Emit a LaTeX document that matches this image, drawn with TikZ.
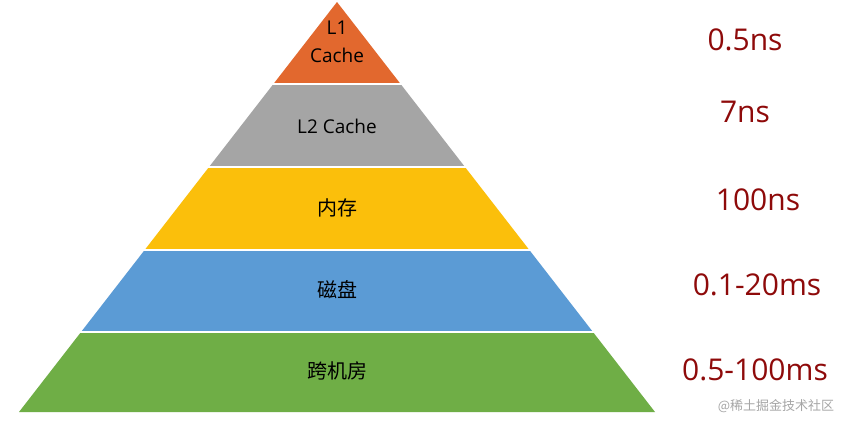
\documentclass[tikz,border=0pt]{standalone}
\usepackage{fontspec}
\setmainfont{Open Sans}
\newfontfamily\cjk{Noto Sans CJK SC}
\definecolor{lvA}{HTML}{E2682E}
\definecolor{lvB}{HTML}{A5A5A5}
\definecolor{lvC}{HTML}{FBBF0B}
\definecolor{lvD}{HTML}{5B9BD5}
\definecolor{lvE}{HTML}{6FAE46}
\definecolor{lat}{HTML}{8E0A0A}
\begin{document}
\begin{tikzpicture}[x=1pt,y=-1pt,
  layer/.style={draw=white,line width=2.5pt,line join=miter},
  lbl/.style={font=\fontsize{19}{22}\selectfont,text=black,align=center},
  cjklbl/.style={font=\cjk\fontsize{20}{22}\selectfont,text=black},
  tm/.style={font=\fontsize{30}{32}\selectfont,text=lat}]
\useasboundingbox[fill=white] (0,0) rectangle (862,423);
\def\hw#1{(#1-2)*0.7756}
\foreach \t/\b/\c in {2/84/lvA,84/167/lvB,167/250/lvC,250/332/lvD,332/412/lvE}{
  \fill[\c] ({337-(\t-2)*0.7756},\t) -- ({337+(\t-2)*0.7756},\t) -- ({337+(\b-2)*0.7756},\b) -- ({337-(\b-2)*0.7756},\b) -- cycle;
}
\foreach \y in {84,167,250,332}{
  \draw[white,line width=2.5pt] ({337-(\y-2)*0.7756-2},\y) -- ({337+(\y-2)*0.7756+2},\y);
}
\node[lbl] (l1) at (337,42) {L1\\[6pt]Cache};
\node[lbl] (l2) at (337,126) {L2 Cache};
\node[cjklbl] (mem) at (337,208) {内存};
\node[cjklbl] (disk) at (337,290) {磁盘};
\node[cjklbl] (dc) at (337,371) {跨机房};
\node[tm] (t1) at (745,40) {0.5ns};
\node[tm] (t2) at (745,112) {7ns};
\node[tm] (t3) at (758,200) {100ns};
\node[tm] (t4) at (757,285) {0.1-20ms};
\node[tm] (t5) at (755,370) {0.5-100ms};
\node[font=\cjk\fontsize{13}{14}\selectfont,text=gray!70] (wm) at (776,406) {@稀土掘金技术社区};
\end{tikzpicture}
\end{document}
